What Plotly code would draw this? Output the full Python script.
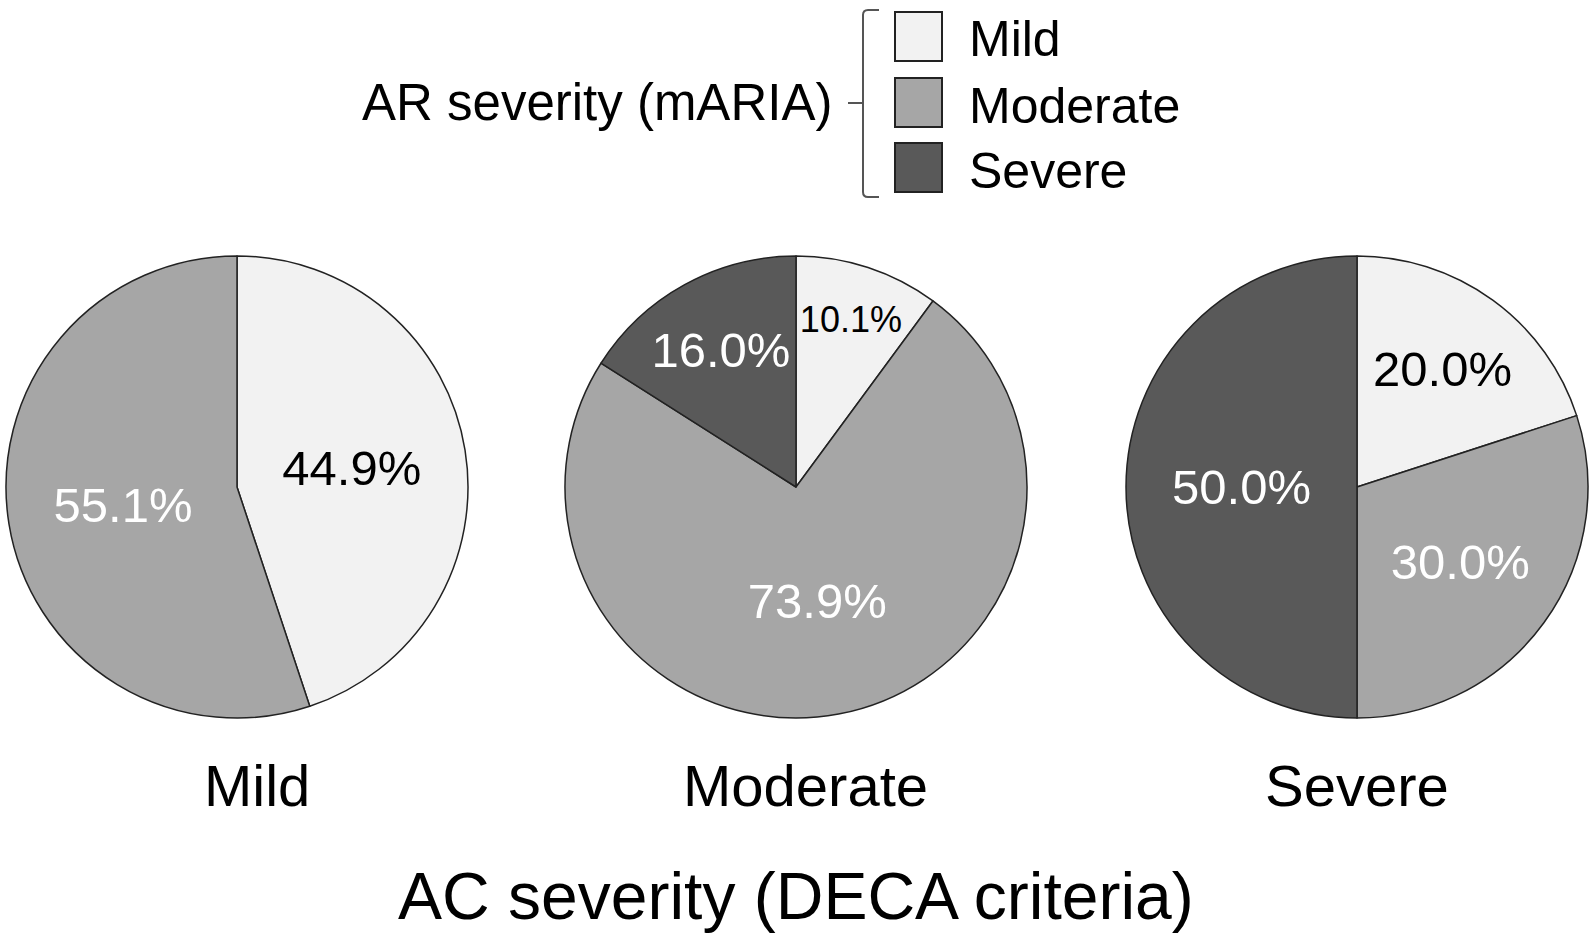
import plotly.graph_objects as go

W, H = 1594, 944

ar_levels = ["Mild", "Moderate", "Severe"]
ar_colors = ["#f2f2f2", "#a6a6a6", "#595959"]
text_colors = ["#000000", "#ffffff", "#ffffff"]

ac_groups = ["Mild", "Moderate", "Severe"]
mild_values = [44.9, 55.1, 0.0]
moderate_values = [10.1, 73.9, 16.0]
severe_values = [20.0, 30.0, 50.0]
group_values = [mild_values, moderate_values, severe_values]

legend_title = "AR severity (mARIA)"
x_title = "AC severity (DECA criteria)"

FONT = "Liberation Sans, Arial, sans-serif"

# pie placement (pixels)
pie_cx = [237, 796, 1357]
pie_cy = 487
pie_r = 231

fig = go.Figure()
for i, vals in enumerate(group_values):
    cx = pie_cx[i]
    x0 = (cx - pie_r) / W
    x1 = (cx + pie_r) / W
    y0 = (H - pie_cy - pie_r) / H
    y1 = (H - pie_cy + pie_r) / H
    labels = [l for l, v in zip(ar_levels, vals) if v > 0]
    values = [v for v in vals if v > 0]
    cols = [c for c, v in zip(ar_colors, vals) if v > 0]
    tcols = [c for c, v in zip(text_colors, vals) if v > 0]
    tsizes = [42 if v < 12 else 49 for v in values]
    fig.add_trace(go.Pie(
        labels=labels, values=values, sort=False, direction="clockwise",
        rotation=0,
        marker=dict(colors=cols, line=dict(color="#222222", width=1.5)),
        texttemplate="%{value:.1f}%", textinfo="text",
        textposition="inside", insidetextorientation="horizontal",
        insidetextfont=dict(family=FONT, size=tsizes, color=tcols),
        domain=dict(x=[x0, x1], y=[y0, y1]),
        showlegend=False, hoverinfo="label+value",
    ))

shapes = []
annotations = []

# legend boxes
box_x0, box_x1 = 895, 942
box_tops = [12, 78, 143]
box_h = 49
for lvl, col, top in zip(ar_levels, ar_colors, box_tops):
    shapes.append(dict(type="rect", xref="paper", yref="paper",
                       x0=box_x0 / W, x1=box_x1 / W,
                       y0=(H - top - box_h) / H, y1=(H - top) / H,
                       fillcolor=col, line=dict(color="#222222", width=2)))
    annotations.append(dict(text=lvl, xref="paper", yref="paper",
                            x=967 / W, y=(H - top - box_h / 2 - 3) / H,
                            xanchor="left", yanchor="middle", showarrow=False,
                            font=dict(family=FONT, size=50, color="#000000")))

# bracket
bx, by0, by1, bmid = 863, 10, 197, 103
bracket_path = (f"M {(bx+16)/W},{(H-by0)/H} L {(bx+5)/W},{(H-by0)/H} "
                f"Q {bx/W},{(H-by0)/H} {bx/W},{(H-by0-5)/H} "
                f"L {bx/W},{(H-by1+5)/H} "
                f"Q {bx/W},{(H-by1)/H} {(bx+5)/W},{(H-by1)/H} "
                f"L {(bx+16)/W},{(H-by1)/H}")
shapes.append(dict(type="path", xref="paper", yref="paper", path=bracket_path,
                   line=dict(color="#555555", width=2)))
shapes.append(dict(type="line", xref="paper", yref="paper",
                   x0=(bx - 15) / W, x1=bx / W, y0=(H - bmid) / H, y1=(H - bmid) / H,
                   line=dict(color="#555555", width=2)))

annotations.append(dict(text=legend_title, xref="paper", yref="paper",
                        x=834 / W, y=(H - 103) / H, xanchor="right", yanchor="middle",
                        showarrow=False, font=dict(family=FONT, size=51, color="#000000")))

# group labels
for g, cx in zip(ac_groups, [257, 805, 1357]):
    annotations.append(dict(text=g, xref="paper", yref="paper",
                            x=cx / W, y=(H - 785) / H, xanchor="center", yanchor="middle",
                            showarrow=False, font=dict(family=FONT, size=58, color="#000000")))

annotations.append(dict(text=x_title, xref="paper", yref="paper",
                        x=796 / W, y=(H - 896) / H, xanchor="center", yanchor="middle",
                        showarrow=False, font=dict(family=FONT, size=66, color="#000000")))

fig.update_layout(width=W, height=H, margin=dict(l=0, r=0, t=0, b=0),
                  paper_bgcolor="white", plot_bgcolor="white",
                  shapes=shapes, annotations=annotations)

fig.write_html("out.html", config={"displayModeBar": False},
               post_script="document.body.style.margin='0px';")
